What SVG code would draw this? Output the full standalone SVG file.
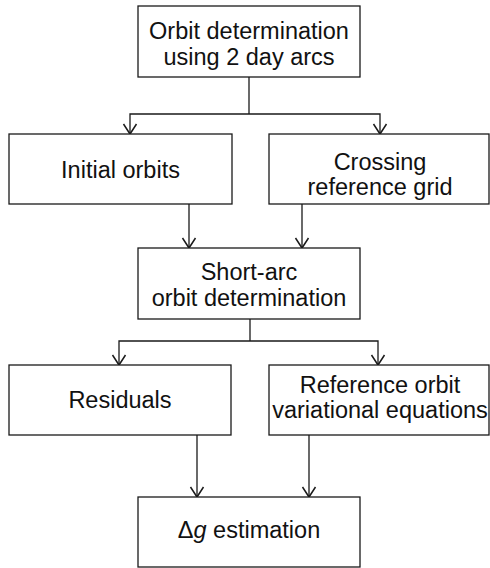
<svg xmlns="http://www.w3.org/2000/svg" width="490" height="568" viewBox="0 0 490 568">
  <style>
    .box { fill: #ffffff; stroke: #1a1a1a; stroke-width: 1.3; }
    .lbl { font-family: "Liberation Sans", Arial, sans-serif; font-size: 23.5px; fill: #111111; text-anchor: middle; }
    .wire { fill: none; stroke: #1a1a1a; stroke-width: 1.3; }
  </style>
  <defs>
    <!-- open chevron head, tip at the line end -->
    <marker id="vee" markerUnits="userSpaceOnUse" markerWidth="14" markerHeight="18" viewBox="-12 -9 14 18" refX="0" refY="0" orient="auto-start-reverse" overflow="visible">
      <path d="M-10,-6.5 L0,0 L-10,6.5" fill="none" stroke="#1a1a1a" stroke-width="1.5"/>
    </marker>
  </defs>
  <rect width="490" height="568" fill="#ffffff"/>

  <!-- connectors -->
  <g id="connectors">
    <path class="wire" d="M249,77 V114"/>
    <path class="wire" d="M130,134 V114 H380 V134" marker-start="url(#vee)" marker-end="url(#vee)"/>
    <path class="wire" d="M189,204 V248" marker-end="url(#vee)"/>
    <path class="wire" d="M302,204 V248" marker-end="url(#vee)"/>
    <path class="wire" d="M250,319 V341"/>
    <path class="wire" d="M119,365 V341 H378 V365" marker-start="url(#vee)" marker-end="url(#vee)"/>
    <path class="wire" d="M197,435 V497" marker-end="url(#vee)"/>
    <path class="wire" d="M309,435 V497" marker-end="url(#vee)"/>
  </g>

  <g id="od2day">
    <rect class="box" x="138" y="6" width="222" height="71"/>
    <text class="lbl" x="249" y="38.5">Orbit determination</text>
    <text class="lbl" x="249" y="64.5">using 2 day arcs</text>
  </g>

  <g id="initial">
    <rect class="box" x="9" y="134" width="223" height="70"/>
    <text class="lbl" x="120.5" y="177.5">Initial orbits</text>
  </g>

  <g id="crossing">
    <rect class="box" x="269" y="134" width="220" height="70"/>
    <text class="lbl" x="380" y="170">Crossing</text>
    <text class="lbl" x="380" y="195">reference grid</text>
  </g>

  <g id="shortarc">
    <rect class="box" x="138" y="248" width="222" height="71"/>
    <text class="lbl" x="249" y="280">Short-arc</text>
    <text class="lbl" x="249" y="306">orbit determination</text>
  </g>

  <g id="residuals">
    <rect class="box" x="9" y="365" width="222" height="70"/>
    <text class="lbl" x="120" y="408">Residuals</text>
  </g>

  <g id="reforbit">
    <rect class="box" x="269" y="365" width="220" height="70"/>
    <text class="lbl" x="380" y="393">Reference orbit</text>
    <text class="lbl" x="380" y="418">variational equations</text>
  </g>

  <g id="dg">
    <rect class="box" x="138" y="497" width="222" height="70"/>
    <text class="lbl" x="249" y="538">Δ<tspan font-style="italic">g</tspan> estimation</text>
  </g>
</svg>
